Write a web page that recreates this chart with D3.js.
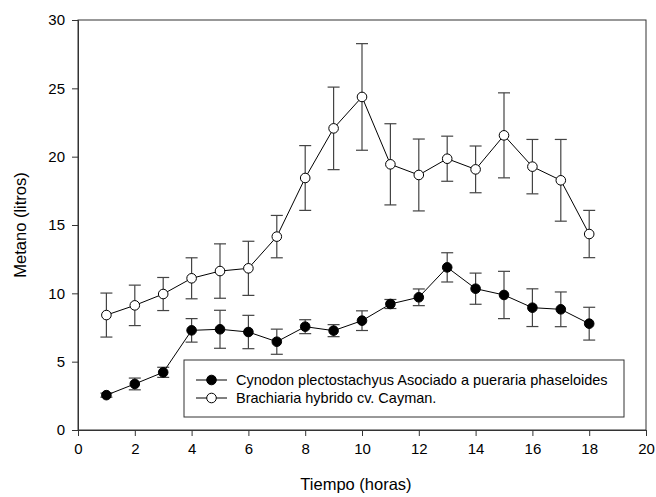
<!DOCTYPE html>
<html><head><meta charset="utf-8">
<script src="https://cdn.jsdelivr.net/npm/d3@7"></script>
<style>body{margin:0;background:#fff}svg{display:block}text{font-family:"Liberation Sans",Arial,sans-serif}</style>
</head><body><svg id="c" width="656" height="497"></svg>
<script>
const hours = [1,2,3,4,5,6,7,8,9,10,11,12,13,14,15,16,17,18];
const cynodonMean = [2.55,3.37,4.22,7.29,7.37,7.17,6.46,7.56,7.27,8.0,9.22,9.71,11.9,10.34,9.88,8.95,8.83,7.78];
const cynodonErr  = [0.15,0.43,0.37,0.86,1.39,1.22,0.92,0.51,0.44,0.72,0.33,0.61,1.07,1.14,1.73,1.38,1.27,1.2];
const brachMean = [8.41,9.12,9.95,11.1,11.63,11.83,14.15,18.44,22.07,24.37,19.44,18.66,19.85,19.07,21.56,19.27,18.27,14.34];
const brachErr  = [1.61,1.48,1.21,1.5,1.99,1.98,1.55,2.37,3.02,3.9,2.97,2.63,1.65,1.71,3.11,1.99,2.99,1.73];
const xTicks = [0,2,4,6,8,10,12,14,16,18,20];
const yTicks = [0,5,10,15,20,25,30];
const seriesNames = ["Cynodon plectostachyus Asociado a pueraria phaseloides","Brachiaria hybrido cv. Cayman."];

const svg = d3.select("#c");
const L=78,R=646,T=20,B=430;
const x = d3.scaleLinear().domain([0,20]).range([L,R]);
const y = d3.scaleLinear().domain([0,30]).range([B,T]);

// frame
svg.append("rect").attr("x",L).attr("y",T).attr("width",R-L).attr("height",B-T)
  .attr("fill","none").attr("stroke","#333").attr("stroke-width",1);

const xa = svg.append("g").attr("transform",`translate(0,${B})`)
  .call(d3.axisBottom(x).tickValues(xTicks).tickSize(6).tickPadding(7).tickFormat(d3.format("d")));
const ya = svg.append("g").attr("transform",`translate(${L},0)`)
  .call(d3.axisLeft(y).tickValues(yTicks).tickSize(6).tickPadding(7).tickFormat(d3.format("d")));
[xa,ya].forEach(a=>{
  a.select(".domain").attr("stroke","#333");
  a.selectAll(".tick line").attr("stroke","#333");
  a.selectAll(".tick text").attr("font-size",15).attr("fill","#000")
   .attr("font-family","'Liberation Sans',Arial,sans-serif");
});

svg.append("text").attr("x",356).attr("y",490).attr("text-anchor","middle")
  .attr("font-size",16.5).text("Tiempo (horas)");
svg.append("text").attr("transform",`translate(26,${(T+B)/2}) rotate(-90)`).attr("text-anchor","middle")
  .attr("font-size",16.5).text("Metano (litros)");

function drawSeries(means, errs, fill){
  const g = svg.append("g");
  const cap = 6;
  hours.forEach((h,i)=>{
    const cx=x(h), y1=y(means[i]+errs[i]), y0=y(means[i]-errs[i]);
    g.append("line").attr("x1",cx).attr("x2",cx).attr("y1",y1).attr("y2",y0).attr("stroke","#444").attr("stroke-width",1.2);
    g.append("line").attr("x1",cx-cap).attr("x2",cx+cap).attr("y1",y1).attr("y2",y1).attr("stroke","#444").attr("stroke-width",1.2);
    g.append("line").attr("x1",cx-cap).attr("x2",cx+cap).attr("y1",y0).attr("y2",y0).attr("stroke","#444").attr("stroke-width",1.2);
  });
  const line = d3.line().x((d,i)=>x(hours[i])).y(d=>y(d));
  g.append("path").datum(means).attr("d",line).attr("fill","none").attr("stroke","#000").attr("stroke-width",1);
  g.selectAll("circle").data(means).enter().append("circle")
    .attr("cx",(d,i)=>x(hours[i])).attr("cy",d=>y(d)).attr("r",4.8)
    .attr("fill",fill).attr("stroke","#000").attr("stroke-width",1);
}
drawSeries(brachMean, brachErr, "#fff");
drawSeries(cynodonMean, cynodonErr, "#000");

// legend
const lg = svg.append("g");
lg.append("rect").attr("x",184).attr("y",360).attr("width",440).attr("height",57)
  .attr("fill","#fff").attr("stroke","#333").attr("stroke-width",1);
const fills=["#000","#fff"];
seriesNames.forEach((n,i)=>{
  const yy = 380 + i*18;
  lg.append("line").attr("x1",196).attr("x2",227).attr("y1",yy).attr("y2",yy).attr("stroke","#000");
  lg.append("circle").attr("cx",211.5).attr("cy",yy).attr("r",4.8).attr("fill",fills[i]).attr("stroke","#000");
  lg.append("text").attr("x",236).attr("y",yy+5).attr("font-size",14.5).text(n);
});
</script></body></html>
